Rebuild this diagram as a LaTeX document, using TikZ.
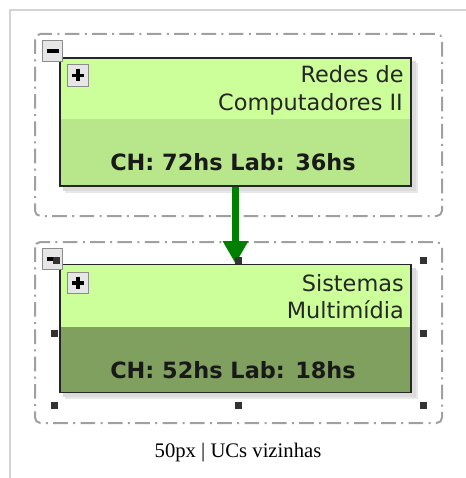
\documentclass[tikz,border=0pt]{standalone}
\usepackage{fontspec}
\setsansfont{DejaVu Sans}
\newfontfamily\capfont{Liberation Serif}
\usetikzlibrary{arrows.meta,backgrounds,calc}

\definecolor{ucTop}{HTML}{CCFF99}
\definecolor{ucLight}{HTML}{B8E68A}
\definecolor{ucDark}{HTML}{80A060}
\definecolor{flowGreen}{HTML}{008000}
\definecolor{frameGray}{HTML}{D4D4D4}
\definecolor{groupGray}{HTML}{A0A0A0}
\definecolor{toggleGray}{HTML}{E6E6E6}

\tikzset{
  groupbox/.style={draw=groupGray, line width=1.5pt, rounded corners=4pt,
    dash pattern=on 11pt off 4pt on 1.5pt off 4pt},
  ucbox/.style={draw=black!85, line width=1.1pt, minimum width=263pt,
    minimum height=96pt, inner sep=0pt},
  togglebox/.style={draw=black!45, fill=toggleGray, line width=0.7pt,
    minimum width=15.5pt, minimum height=16pt, inner sep=0pt},
  sign/.style={line width=2.4pt},
  title/.style={font=\sffamily\fontsize{16.8}{20}\selectfont, text=black!85, inner sep=0pt},
  hours/.style={font=\sffamily\bfseries\fontsize{16.8}{20}\selectfont, text=black!90, inner sep=0pt},
  flow/.style={draw=flowGreen, line width=4.8pt, -{Triangle[width=18pt,length=17pt]}},
  handle/.style={fill=black!80}
}

\begin{document}
\begin{tikzpicture}[x=0.75pt, y=-0.75pt]
  \useasboundingbox (0,0) rectangle (466,478);
  % page frame
  \draw[frameGray, line width=0.9pt] (10,478) -- (10,10) -- (466,10);

  % groups
  \draw[groupbox] (35,34) rectangle (442,216);
  \draw[groupbox] (35,242) rectangle (442,423);

  % units
  \node[ucbox] (redes) at (235.5,122) {};
  \node[ucbox] (sistemas) at (235.5,328.5) {};

  \begin{scope}[on background layer]
    \fill[black!9] ($(redes.north west)+(6,6)$) rectangle ($(redes.south east)+(6,6)$);
    \fill[black!14] ($(redes.north west)+(4,4)$) rectangle ($(redes.south east)+(4,4)$);
    \fill[black!9] ($(sistemas.north west)+(6,6)$) rectangle ($(sistemas.south east)+(6,6)$);
    \fill[black!14] ($(sistemas.north west)+(4,4)$) rectangle ($(sistemas.south east)+(4,4)$);
    \fill[ucLight] (redes.north west) rectangle (redes.south east);
    \fill[ucTop] (redes.north west) rectangle ($(redes.east)+(0,-3)$);
    \fill[ucDark] (sistemas.north west) rectangle (sistemas.south east);
    \fill[ucTop] (sistemas.north west) rectangle ($(sistemas.east)+(0,-1.5)$);
  \end{scope}

  \node[title, anchor=base east] (redes1) at (404,83) {Redes de};
  \node[title, anchor=base east] (redes2) at (403,110) {Computadores II};
  \node[hours, anchor=base] (redesch) at (233,170) {CH: 72hs Lab: 36hs};

  \node[title, anchor=base east] (sist1) at (404,291) {Sistemas};
  \node[title, anchor=base east] (sist2) at (404,318) {Multimídia};
  \node[hours, anchor=base] (sistch) at (233,378) {CH: 52hs Lab: 18hs};

  % toggles
  \node[togglebox] (minus1) at (52.5,51) {};
  \draw[sign] ($(minus1.center)+(-6,0)$) -- ($(minus1.center)+(6,0)$);
  \node[togglebox] (plus1) at (78,75.5) {};
  \draw[sign] ($(plus1.center)+(-6,0)$) -- ($(plus1.center)+(6,0)$);
  \draw[sign] ($(plus1.center)+(0,-6)$) -- ($(plus1.center)+(0,6)$);

  \node[togglebox] (minus2) at (52.5,259) {};
  \draw[sign] ($(minus2.center)+(-6,0)$) -- ($(minus2.center)+(4,0)$);
  \node[togglebox] (plus2) at (78,283) {};
  \draw[sign] ($(plus2.center)+(-6,0)$) -- ($(plus2.center)+(6,0)$);
  \draw[sign] ($(plus2.center)+(0,-6)$) -- ($(plus2.center)+(0,6)$);

  % dependency
  \draw[flow] (redes.south) -- (sistemas.north);

  % selection handles
  \foreach \hx/\hy in {56/260, 238/260, 423/260, 54/333, 423/333, 54/405, 238/405, 423/405}
    \fill[handle] (\hx-3.5,\hy-3.5) rectangle (\hx+3.5,\hy+3.5);

  \node[font=\capfont\fontsize{15.5}{18}\selectfont, anchor=base, inner sep=0pt] (caption) at (238,457) {50px | UCs vizinhas};
\end{tikzpicture}
\end{document}
